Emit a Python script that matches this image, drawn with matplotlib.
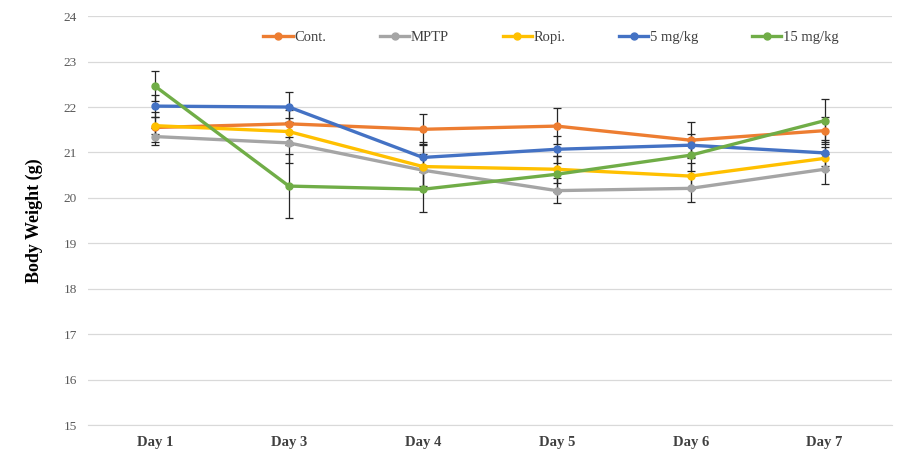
import matplotlib
matplotlib.use("Agg")
import matplotlib.pyplot as plt
import numpy as np

plt.rcParams["font.family"] = ["Liberation Serif", "DejaVu Serif"]

days = ["Day 1", "Day 3", "Day 4", "Day 5", "Day 6", "Day 7"]

cont = [21.55, 21.63, 21.51, 21.58, 21.27, 21.48]
mptp = [21.35, 21.21, 20.61, 20.16, 20.21, 20.63]
ropi = [21.59, 21.46, 20.69, 20.63, 20.48, 20.87]
mg5 = [22.02, 22.00, 20.89, 21.07, 21.16, 20.99]
mg15 = [22.46, 20.26, 20.19, 20.52, 20.94, 21.70]

cont_err = [0.33, 0.30, 0.33, 0.39, 0.40, 0.30]
mptp_err = [0.19, 0.45, 0.35, 0.28, 0.30, 0.33]
ropi_err = [0.18, 0.30, 0.47, 0.30, 0.28, 0.25]
mg5_err = [0.25, 0.32, 0.33, 0.30, 0.25, 0.28]
mg15_err = [0.33, 0.71, 0.50, 0.40, 0.35, 0.47]

series = [
    ("Cont.", cont, cont_err, "#ED7D31"),
    ("MPTP", mptp, mptp_err, "#A5A5A5"),
    ("Ropi.", ropi, ropi_err, "#FFC000"),
    ("5 mg/kg", mg5, mg5_err, "#4472C4"),
    ("15 mg/kg", mg15, mg15_err, "#70AD47"),
]

fig = plt.figure(figsize=(9.09, 4.62), dpi=100)
ax = fig.add_axes([0.0968, 0.08, 0.884, 0.885])

x = np.arange(len(days))
for label, vals, err, color in series:
    ax.errorbar(x, vals, yerr=err, fmt="none", ecolor="#262626",
                elinewidth=0.9, capsize=3, capthick=0.9, zorder=2)
for label, vals, err, color in series:
    ax.plot(x, vals, color=color, linewidth=2.4, marker="o",
            markersize=5, label=label, zorder=3)

ax.set_xlim(-0.5, len(days) - 0.5)
ax.set_ylim(15, 24)
ax.set_yticks(range(15, 25))
ax.set_xticks(x)
ax.set_xticklabels(days, fontweight="bold", fontsize=10.5, color="#404040")
ax.tick_params(axis="y", labelsize=9.5, colors="#595959", length=0, pad=8)
ax.tick_params(axis="x", length=0, pad=8)

ax.grid(axis="y", color="#D9D9D9", linewidth=0.9)
ax.set_axisbelow(True)
for s in ["top", "right", "left"]:
    ax.spines[s].set_visible(False)
ax.spines["bottom"].set_color("#D9D9D9")

ax.set_ylabel("Body Weight (g)", fontsize=13, fontweight="bold", labelpad=15)

ax.legend(loc="center", bbox_to_anchor=(0.576, 0.949), ncol=5, frameon=False,
          fontsize=10.5, columnspacing=3.7, handlelength=2.0, handletextpad=0.1,
          labelcolor="#404040")

fig.savefig("out.png", dpi=100)
